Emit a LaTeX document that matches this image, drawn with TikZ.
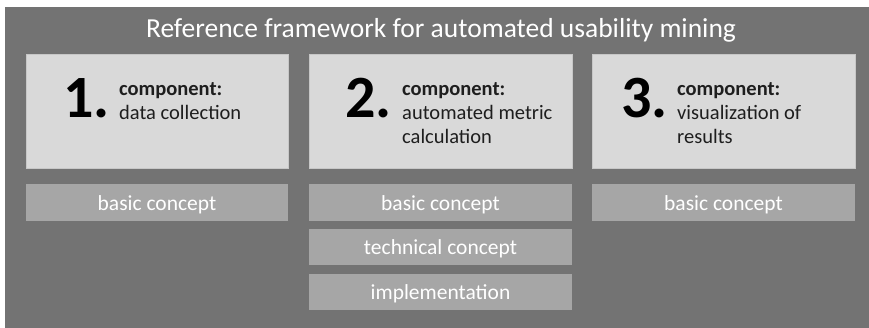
\documentclass[tikz,border=0pt]{standalone}
\usepackage{fontspec}
\setmainfont{Carlito}
\definecolor{bggray}{HTML}{737373}
\definecolor{boxlight}{HTML}{D9D9D9}
\definecolor{boxmid}{HTML}{A6A6A6}
\definecolor{txtdark}{HTML}{1E1E1E}
\begin{document}
\begin{tikzpicture}[x=1pt,y=-1pt,
  compbox/.style={fill=boxlight,draw=boxlight!80!gray,line width=0.6pt},
  subbox/.style={fill=boxmid,draw=none},
  subtext/.style={text=white,font=\fontsize{21.5}{24}\selectfont},
  numtext/.style={text=black,font=\fontsize{60}{60}\selectfont\bfseries,anchor=base west,inner sep=0pt},
  comptext/.style={text=txtdark,font=\fontsize{20.5}{24}\selectfont,anchor=base west,inner sep=0pt}]
\useasboundingbox (0,0) rectangle (869,328);
\fill[white] (0,0) rectangle (869,328);
\fill[bggray] (5,7) rectangle (869,328);
\node[text=white,font=\fontsize{27.5}{30}\selectfont,anchor=base,inner sep=0pt] (title) at (441,38) {Reference framework for automated usability mining};
% component boxes
\draw[compbox] (26,54) rectangle (288,168);
\draw[compbox] (309,54) rectangle (572,168);
\draw[compbox] (592,54) rectangle (855,168);
\node[numtext] (n1) at (63,118) {1.};
\node[numtext] (n2) at (345,118) {2.};
\node[numtext] (n3) at (621,118) {3.};
\node[comptext,font=\fontsize{20.5}{24}\selectfont\bfseries] (c1a) at (119,96) {component:};
\node[comptext] (c1b) at (119,120) {data collection};
\node[comptext,font=\fontsize{20.5}{24}\selectfont\bfseries] (c2a) at (402,96) {component:};
\node[comptext] (c2b) at (402,120) {automated metric};
\node[comptext] (c2c) at (402,144) {calculation};
\node[comptext,font=\fontsize{20.5}{24}\selectfont\bfseries] (c3a) at (677,96) {component:};
\node[comptext] (c3b) at (677,120) {visualization of};
\node[comptext] (c3c) at (677,144) {results};
% sub boxes
\fill[subbox] (26,184) rectangle (288,221);
\fill[subbox] (309,184) rectangle (572,221);
\fill[subbox] (592,184) rectangle (855,221);
\fill[subbox] (309,229) rectangle (572,265);
\fill[subbox] (309,274) rectangle (572,310);
\node[subtext] (b1) at (157,205) {basic concept};
\node[subtext] (b2) at (440.5,205) {basic concept};
\node[subtext] (b3) at (723.5,205) {basic concept};
\node[subtext] (t2) at (440.5,249) {technical concept};
\node[subtext] (i2) at (440.5,294) {implementation};
\end{tikzpicture}
\end{document}
